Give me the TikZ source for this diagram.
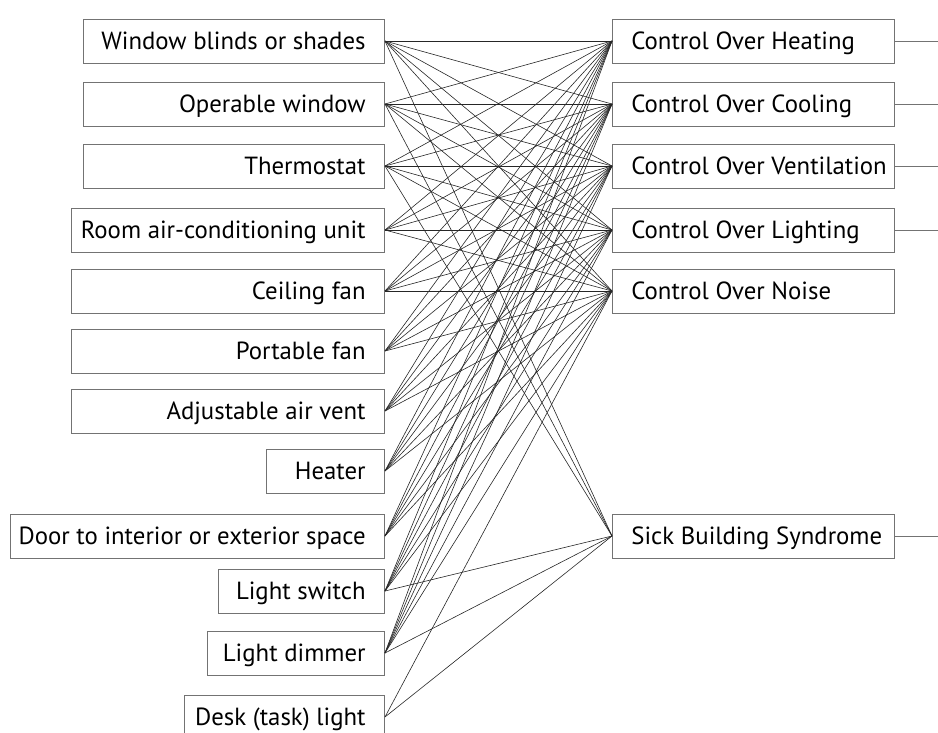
\documentclass[tikz,border=0pt]{standalone}
\usepackage{fontspec}
\setmainfont{PT Sans}
\usepackage{tikz}

\begin{document}
\begin{tikzpicture}[
x=1pt,y=-1pt,
font=\fontsize{24.8}{27}\selectfont,
feature/.style={rectangle,draw=black!55,line width=0.8pt,inner xsep=19pt,inner ysep=0pt,minimum height=44pt,text height=17.5pt,text depth=1pt,anchor=east},
outcome/.style={rectangle,draw=black!55,line width=0.8pt,inner xsep=19pt,inner ysep=0pt,minimum height=44pt,text height=17.5pt,text depth=1pt,anchor=west},
link/.style={draw=black!85,line width=0.6pt}
]
\useasboundingbox (0,0) rectangle (938,733);

% Control features (left column), name/left edge/row/text
\foreach \nm/\lx/\ry/\txt in {
  blinds/84/41/{Window blinds or shades},
  window/84/104/{Operable window},
  thermo/84/166/{Thermostat},
  aircon/72/230/{Room air-conditioning unit},
  cfan/72/291/{Ceiling fan},
  pfan/72/351/{Portable fan},
  vent/72/411/{Adjustable air vent},
  heater/267/471/{Heater},
  door/11/536/{Door to interior or exterior space},
  switch/219/591/{Light switch},
  dimmer/208/653/{Light dimmer},
  desk/185/717/{Desk (task) light}}{
  \pgfmathsetmacro\boxw{385-\lx-38}
  \node [feature] (\nm) at (385,\ry) {\makebox[\boxw pt][r]{\txt}};
}

% Perceived control and outcome (right column)
\foreach \nm/\ry/\txt in {
  cheat/41/{Control Over Heating},
  ccool/104/{Control Over Cooling},
  cvent/166/{Control Over Ventilation},
  clight/230/{Control Over Lighting},
  cnoise/291/{Control Over Noise},
  sbs/536/{Sick Building Syndrome}}{
  \node [outcome] (\nm) at (612,\ry) {\makebox[244pt][l]{\txt}};
}

% Features to each control
\foreach \f in {blinds,window,thermo,aircon,cfan,pfan,vent,heater,door,switch,dimmer}{
  \foreach \c in {cheat,ccool,cvent,clight,cnoise}{
    \draw [link] (\f.east) -- (\c.west);
  }
}
\draw [link] (desk.east) -- (cnoise.west);

% Features to sick building syndrome
\foreach \f in {blinds,window,thermo,switch,dimmer,desk}{
  \draw [link] (\f.east) -- (sbs.west);
}

% Lines leaving to the right
\foreach \c in {cheat,ccool,cvent,clight,sbs}{
  \coordinate (\c-out) at (938,0 |- \c.east);
  \draw [link,draw=black!55,line width=0.8pt] (\c.east) -- (\c-out);
}
\end{tikzpicture}
\end{document}
